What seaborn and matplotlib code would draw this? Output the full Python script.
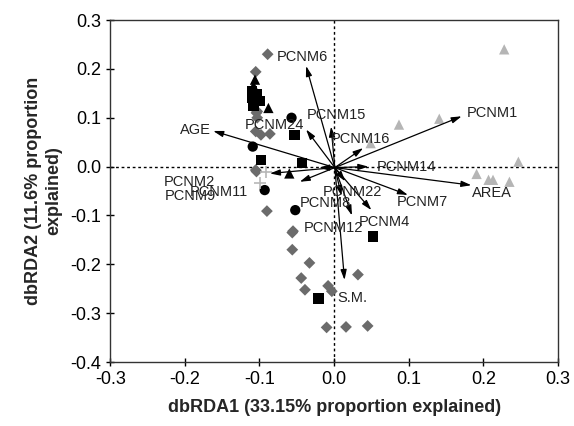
import pandas as pd
import matplotlib.pyplot as plt
import seaborn as sns

sns.set_style("white")
plt.rcParams['font.family'] = ['Liberation Sans', 'DejaVu Sans']

# site scores, one list per group
diamond_x = [-0.089, -0.105, -0.104, -0.103, -0.105, -0.098, -0.086, -0.103, -0.104, -0.105,
             -0.090, -0.055, -0.056, -0.056, -0.033, -0.044, -0.039, -0.008, -0.003, 0.032,
             -0.010, 0.016, 0.045]
diamond_y = [0.230, 0.194, 0.110, 0.113, 0.072, 0.065, 0.067, 0.100, -0.010, -0.007,
             -0.091, -0.132, -0.135, -0.170, -0.197, -0.228, -0.252, -0.244, -0.255, -0.221,
             -0.329, -0.328, -0.326]
square_x = [-0.110, -0.110, -0.100, -0.108, -0.104, -0.053, -0.098, -0.043, 0.052, -0.021]
square_y = [0.155, 0.140, 0.135, 0.125, 0.148, 0.065, 0.014, 0.007, -0.143, -0.270]
circle_x = [-0.057, -0.109, -0.093, -0.052]
circle_y = [0.100, 0.041, -0.048, -0.089]
btri_x = [-0.060, -0.088, -0.106, -0.108]
btri_y = [-0.014, 0.120, 0.178, 0.165]
gtri_x = [0.228, 0.087, 0.141, 0.049, 0.247, 0.191, 0.207, 0.213, 0.235]
gtri_y = [0.240, 0.086, 0.098, 0.048, 0.010, -0.015, -0.027, -0.027, -0.031]
plus_x = [-0.091, -0.099]
plus_y = [-0.010, -0.034]

# environmental vectors: tip coordinates and label positions
vec_names = ["PCNM1", "AGE", "PCNM6", "PCNM24", "PCNM15", "PCNM16", "PCNM14", "AREA",
             "PCNM7", "PCNM4", "PCNM22", "PCNM8", "PCNM12", "S.M.", "PCNM2", "PCNM9", "PCNM11"]
vec_x = [0.171, -0.162, -0.0375, -0.0375, -0.004, 0.039, 0.046, 0.184,
         0.099, 0.050, 0.015, 0.010, 0.024, 0.014, -0.086, -0.046, -0.020]
vec_y = [0.103, 0.073, 0.206, 0.076, 0.082, 0.038, 0.000, -0.038,
         -0.058, -0.089, -0.030, -0.060, -0.100, -0.232, -0.014, -0.031, -0.002]
lab_x = [0.212, -0.186, -0.042, -0.080, 0.003, 0.036, 0.097, 0.211,
         0.119, 0.067, 0.025, -0.011, -0.001, 0.024, -0.194, -0.193, -0.154]
lab_y = [0.109, 0.075, 0.224, 0.086, 0.106, 0.057, 0.000, -0.054,
         -0.072, -0.113, -0.051, -0.075, -0.126, -0.268, -0.031, -0.060, -0.051]

df = pd.DataFrame({
    "x": diamond_x + square_x + circle_x + btri_x + gtri_x,
    "y": diamond_y + square_y + circle_y + btri_y + gtri_y,
    "grp": ["d"] * len(diamond_x) + ["s"] * len(square_x) + ["c"] * len(circle_x)
           + ["bt"] * len(btri_x) + ["gt"] * len(gtri_x),
})

fig, ax = plt.subplots(figsize=(5.74, 4.26), dpi=100)
fig.subplots_adjust(left=0.192, right=0.972, bottom=0.150, top=0.953)

ax.axhline(0, color="black", ls=(0, (2, 2)), lw=1, zorder=0)
ax.axvline(0, color="black", ls=(0, (2, 2)), lw=1, zorder=0)

sns.scatterplot(data=df, x="x", y="y", hue="grp", style="grp", size="grp",
                palette={"d": "#6b6b6b", "s": "black", "c": "black", "bt": "black", "gt": "#b5b5b5"},
                markers={"d": "D", "s": "s", "c": "o", "bt": "^", "gt": "^"},
                sizes={"d": 36, "s": 55, "c": 55, "bt": 55, "gt": 55},
                edgecolor="none", legend=False, ax=ax, zorder=2)
sns.scatterplot(x=plus_x, y=plus_y, marker="+", color="#b8b8b8", s=70, linewidth=1.2,
                legend=False, ax=ax, zorder=2)

for name, vx, vy, tx, ty in zip(vec_names, vec_x, vec_y, lab_x, lab_y):
    ax.annotate("", xy=(vx, vy), xytext=(0.001, -0.002),
                arrowprops=dict(arrowstyle="-|>,head_length=0.6,head_width=0.18",
                                color="black", lw=0.9, shrinkA=0, shrinkB=0), zorder=3)
    ax.text(tx, ty, name, fontsize=10.5, ha="center", va="center", color="#222222", zorder=4)

ax.set_xlim(-0.3, 0.3)
ax.set_ylim(-0.4, 0.3)
ax.set_xticks([-0.3, -0.2, -0.1, 0.0, 0.1, 0.2, 0.3])
ax.set_yticks([-0.4, -0.3, -0.2, -0.1, 0.0, 0.1, 0.2, 0.3])
ax.xaxis.set_major_formatter(plt.FormatStrFormatter("%.1f"))
ax.yaxis.set_major_formatter(plt.FormatStrFormatter("%.1f"))
ax.tick_params(direction="inout", length=6, width=1, labelsize=13, colors="black",
               bottom=True, left=True)
for sp in ax.spines.values():
    sp.set_color("#333333")
    sp.set_linewidth(1)

ax.set_xlabel("dbRDA1 (33.15% proportion explained)", fontsize=13, fontweight="bold", labelpad=8)
ax.set_ylabel("dbRDA2 (11.6% proportion\nexplained)", fontsize=13, fontweight="bold", labelpad=6)

plt.savefig("out.png", dpi=100)
